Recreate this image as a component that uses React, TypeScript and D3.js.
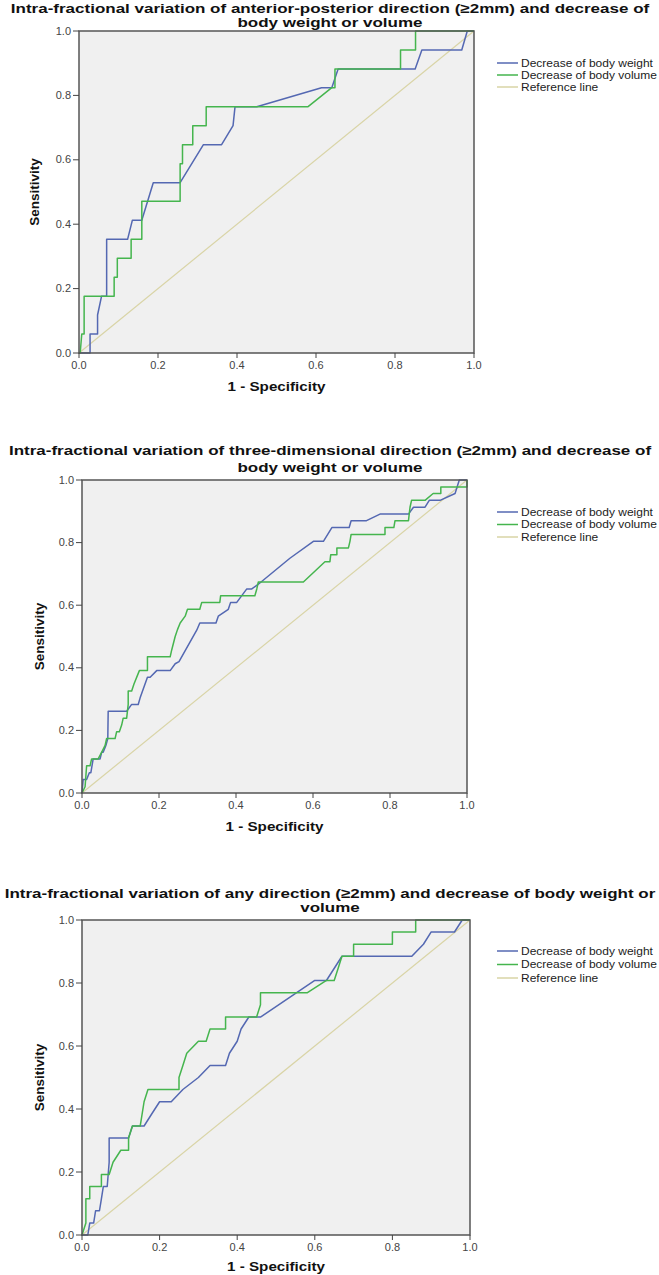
import React from "react";
import * as d3 from "d3";

type Pt = [number, number];

const xTicks = [0, 0.2, 0.4, 0.6, 0.8, 1.0];
const yTicks = [0, 0.2, 0.4, 0.6, 0.8, 1.0];
const seriesNames = ["Decrease of body weight", "Decrease of body volume", "Reference line"];
const refLine: Pt[] = [[0, 0], [1, 1]];

const titles1 = ["Intra-fractional variation of anterior-posterior direction (\u22652mm) and decrease of", "body weight or volume"];
const titles2 = ["Intra-fractional variation of three-dimensional direction (\u22652mm) and decrease of", "body weight or volume"];
const titles3 = ["Intra-fractional variation of any direction (\u22652mm) and decrease of body weight or", "volume"];

const p1Weight: Pt[] = [[0,0],[0.028,0],[0.028,0.059],[0.047,0.059],[0.047,0.118],[0.057,0.176],[0.07,0.176],[0.07,0.353],[0.123,0.353],[0.135,0.412],[0.159,0.412],[0.188,0.529],[0.256,0.529],[0.315,0.647],[0.361,0.647],[0.39,0.706],[0.395,0.765],[0.45,0.765],[0.614,0.824],[0.64,0.824],[0.656,0.882],[0.851,0.882],[0.868,0.941],[0.969,0.941],[0.983,1],[1,1]];
const p1Volume: Pt[] = [[0,0],[0.003,0],[0.007,0.059],[0.013,0.059],[0.013,0.176],[0.089,0.176],[0.089,0.235],[0.097,0.235],[0.097,0.294],[0.132,0.294],[0.132,0.353],[0.159,0.353],[0.159,0.471],[0.256,0.471],[0.256,0.588],[0.262,0.588],[0.262,0.647],[0.288,0.647],[0.288,0.706],[0.322,0.706],[0.322,0.765],[0.58,0.765],[0.64,0.824],[0.648,0.824],[0.648,0.882],[0.814,0.882],[0.814,0.941],[0.852,0.941],[0.852,1],[1,1]];

const p2Weight: Pt[] = [[0,0],[0.003,0.043],[0.012,0.043],[0.019,0.065],[0.023,0.065],[0.029,0.109],[0.047,0.109],[0.051,0.13],[0.055,0.13],[0.062,0.152],[0.067,0.174],[0.068,0.261],[0.116,0.261],[0.129,0.283],[0.146,0.283],[0.151,0.304],[0.17,0.37],[0.177,0.37],[0.194,0.391],[0.229,0.391],[0.242,0.413],[0.252,0.42],[0.298,0.52],[0.306,0.543],[0.348,0.543],[0.354,0.565],[0.38,0.587],[0.386,0.609],[0.402,0.609],[0.428,0.652],[0.441,0.652],[0.458,0.667],[0.54,0.75],[0.601,0.804],[0.627,0.804],[0.649,0.848],[0.694,0.848],[0.699,0.87],[0.739,0.87],[0.774,0.891],[0.848,0.891],[0.861,0.913],[0.891,0.913],[0.902,0.935],[0.93,0.935],[0.969,0.957],[0.98,1],[1,1]];
const p2Volume: Pt[] = [[0,0],[0.008,0.02],[0.012,0.087],[0.021,0.087],[0.025,0.109],[0.042,0.109],[0.051,0.13],[0.06,0.152],[0.064,0.174],[0.086,0.174],[0.09,0.196],[0.097,0.196],[0.103,0.217],[0.107,0.239],[0.116,0.239],[0.12,0.283],[0.12,0.326],[0.129,0.326],[0.135,0.348],[0.149,0.391],[0.17,0.391],[0.17,0.435],[0.229,0.435],[0.233,0.457],[0.242,0.5],[0.248,0.522],[0.255,0.543],[0.268,0.565],[0.274,0.587],[0.306,0.587],[0.311,0.609],[0.358,0.609],[0.36,0.63],[0.449,0.63],[0.454,0.652],[0.458,0.674],[0.575,0.674],[0.631,0.739],[0.644,0.739],[0.646,0.761],[0.662,0.761],[0.662,0.783],[0.692,0.783],[0.696,0.804],[0.699,0.826],[0.787,0.826],[0.787,0.848],[0.81,0.848],[0.813,0.87],[0.848,0.87],[0.852,0.913],[0.856,0.935],[0.891,0.935],[0.912,0.957],[0.932,0.957],[0.932,0.978],[1,0.978],[1,1]];

const p3Weight: Pt[] = [[0,0],[0.015,0],[0.02,0.038],[0.03,0.038],[0.035,0.077],[0.045,0.077],[0.05,0.115],[0.055,0.154],[0.065,0.154],[0.07,0.231],[0.07,0.308],[0.12,0.308],[0.13,0.346],[0.16,0.346],[0.18,0.385],[0.2,0.423],[0.23,0.423],[0.26,0.462],[0.3,0.5],[0.33,0.538],[0.37,0.538],[0.38,0.577],[0.4,0.615],[0.41,0.654],[0.43,0.692],[0.46,0.692],[0.6,0.808],[0.63,0.808],[0.67,0.885],[0.85,0.885],[0.88,0.923],[0.9,0.962],[0.96,0.962],[0.98,1],[1,1]];
const p3Volume: Pt[] = [[0,0],[0.01,0.038],[0.01,0.115],[0.02,0.115],[0.02,0.154],[0.05,0.154],[0.05,0.192],[0.07,0.192],[0.08,0.231],[0.1,0.269],[0.12,0.269],[0.12,0.308],[0.13,0.346],[0.15,0.346],[0.16,0.423],[0.17,0.462],[0.25,0.462],[0.25,0.5],[0.26,0.538],[0.27,0.577],[0.3,0.615],[0.32,0.615],[0.33,0.654],[0.37,0.654],[0.37,0.692],[0.45,0.692],[0.46,0.731],[0.46,0.769],[0.58,0.769],[0.63,0.808],[0.65,0.808],[0.66,0.846],[0.67,0.885],[0.7,0.885],[0.7,0.923],[0.8,0.923],[0.8,0.962],[0.86,0.962],[0.86,1],[1,1]];

const COLORS = ["#5468B2", "#45B54E", "#D9D4A6"];
const FONT = "'Liberation Sans', Arial, sans-serif";

interface PanelCfg {
  titles: string[];
  weight: Pt[];
  volume: Pt[];
  left: number; right: number; top: number; bottom: number;
  titleY: number[];
  legendY: number;
  legendStep: number;
  yLabelX: number;
  xLabelDy: number;
}

const panels: PanelCfg[] = [
  { titles: titles1, weight: p1Weight, volume: p1Volume, left: 79, right: 474, top: 31, bottom: 353, titleY: [13, 27], legendY: 63, legendStep: 12, yLabelX: 35, xLabelDy: 38 },
  { titles: titles2, weight: p2Weight, volume: p2Volume, left: 82, right: 467, top: 480, bottom: 793, titleY: [455, 472], legendY: 512, legendStep: 12.5, yLabelX: 40, xLabelDy: 38 },
  { titles: titles3, weight: p3Weight, volume: p3Volume, left: 82, right: 470, top: 920, bottom: 1235, titleY: [898, 912], legendY: 951, legendStep: 13.5, yLabelX: 40, xLabelDy: 36 },
];

function SText({ x, y, sx, children, ...rest }: any) {
  return (
    <text transform={`translate(${x},${y}) scale(${sx},1)`} fontFamily={FONT} {...rest}>{children}</text>
  );
}

function Panel({ cfg }: { cfg: PanelCfg }) {
  const x = d3.scaleLinear().domain([0, 1]).range([cfg.left, cfg.right]);
  const y = d3.scaleLinear().domain([0, 1]).range([cfg.bottom, cfg.top]);
  const line = d3.line<Pt>().x((d) => x(d[0])).y((d) => y(d[1]));
  const cx = 330;
  const midY = (cfg.top + cfg.bottom) / 2;
  const midX = (cfg.left + cfg.right) / 2;
  return (
    <g>
      {cfg.titles.map((t, i) => (
        <SText key={i} x={cx} y={cfg.titleY[i]} sx={1.26} textAnchor="middle" fontWeight="bold" fontSize={13.5} fill="#111">{t}</SText>
      ))}
      <rect x={cfg.left} y={cfg.top} width={cfg.right - cfg.left} height={cfg.bottom - cfg.top} fill="#F0F0F0" stroke="none" />
      <path d={line(refLine) || ""} fill="none" stroke={COLORS[2]} strokeWidth={1.2} />
      <path d={line(cfg.weight) || ""} fill="none" stroke={COLORS[0]} strokeWidth={1.5} strokeLinejoin="round" />
      <path d={line(cfg.volume) || ""} fill="none" stroke={COLORS[1]} strokeWidth={1.5} strokeLinejoin="round" />
      <rect x={cfg.left} y={cfg.top} width={cfg.right - cfg.left} height={cfg.bottom - cfg.top} fill="none" stroke="#555" strokeWidth={1.5} />
      {yTicks.map((t) => (
        <g key={"y" + t}>
          <line x1={cfg.left - 6} x2={cfg.left} y1={y(t)} y2={y(t)} stroke="#444" strokeWidth={1} />
          <SText x={cfg.left - 8} y={y(t) + 3.5} sx={1.1} textAnchor="end" fontSize={10} fill="#444">{t.toFixed(1)}</SText>
        </g>
      ))}
      {xTicks.map((t) => (
        <g key={"x" + t}>
          <line x1={x(t)} x2={x(t)} y1={cfg.bottom} y2={cfg.bottom + 5} stroke="#444" strokeWidth={1} />
          <SText x={x(t)} y={cfg.bottom + 16} sx={1.1} textAnchor="middle" fontSize={10} fill="#444">{t.toFixed(1)}</SText>
        </g>
      ))}
      <SText x={midX} y={cfg.bottom + cfg.xLabelDy} sx={1.17} textAnchor="middle" fontWeight="bold" fontSize={13} fill="#111">1 - Specificity</SText>
      <text transform={`translate(${cfg.yLabelX + 4},${midY}) rotate(-90)`} textAnchor="middle" fontFamily={FONT} fontWeight="bold" fontSize={13.5} fill="#111">Sensitivity</text>
      {seriesNames.map((n, i) => (
        <g key={n}>
          <line x1={497} x2={518} y1={cfg.legendY + i * cfg.legendStep} y2={cfg.legendY + i * cfg.legendStep} stroke={COLORS[i]} strokeWidth={1.5} />
          <SText x={521} y={cfg.legendY + i * cfg.legendStep + 3.5} sx={1.2} fontSize={10} fill="#222">{n}</SText>
        </g>
      ))}
    </g>
  );
}

export default function App() {
  return (
    <svg width={659} height={1275} style={{ position: "absolute", left: 0, top: 0, background: "#fff" }}>
      <rect x={0} y={0} width={659} height={1275} fill="#fff" />
      {panels.map((p, i) => <Panel key={i} cfg={p} />)}
    </svg>
  );
}
